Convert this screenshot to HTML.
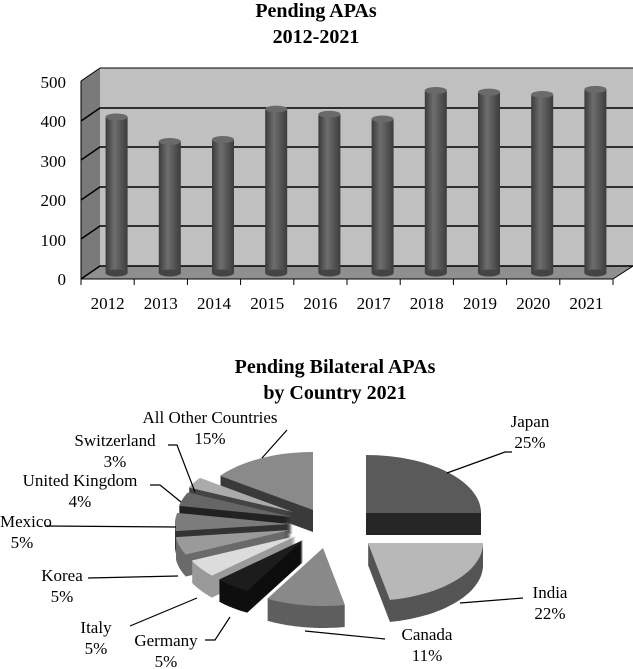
<!DOCTYPE html>
<html><head><meta charset="utf-8"><style>
html,body{margin:0;padding:0;background:#fff;}
svg{display:block;font-family:"Liberation Serif",serif;}
</style></head><body>
<svg id="s" width="633" height="669" viewBox="0 0 633 669" xmlns="http://www.w3.org/2000/svg">
<defs>
<linearGradient id="cyl" x1="0" x2="1" y1="0" y2="0">
<stop offset="0" stop-color="#3a3a3a"/><stop offset="0.4" stop-color="#6e6e6e"/><stop offset="1" stop-color="#3c3c3c"/>
</linearGradient>
</defs>
<text x="316" y="17" font-size="20" font-weight="bold" text-anchor="middle">Pending APAs</text>
<text x="316" y="43" font-size="20" font-weight="bold" text-anchor="middle">2012-2021</text>
<polygon points="100,68 633,68 633,266 100,266" fill="#c0c0c0"/>
<polygon points="81,81 100,68 100,266 81,279" fill="#7a7a7a"/>
<polygon points="81,279 100,266 633,266 613,279" fill="#8f8f8f"/>
<g stroke="#000" stroke-width="1.5" fill="none">
<polyline points="81,121 100,108 633,108"/>
<polyline points="81,160 100,147 633,147"/>
<polyline points="81,200 100,187 633,187"/>
<polyline points="81,239 100,226 633,226"/>
<polyline points="81,279 100,266 633,266"/>
<line x1="100" y1="68" x2="633" y2="68" stroke-width="1"/>
<line x1="81" y1="81" x2="100" y2="68" stroke-width="1"/>
<line x1="81" y1="81" x2="81" y2="279" stroke-width="1"/>
<line x1="81" y1="279" x2="613" y2="279" stroke-width="1"/>
<line x1="613" y1="279" x2="633" y2="266" stroke-width="1"/>
</g>
<g id="bars"></g>
<g font-size="17" text-anchor="end">
<text x="66" y="88">500</text><text x="66" y="127">400</text><text x="66" y="167">300</text>
<text x="66" y="206">200</text><text x="66" y="246">100</text><text x="66" y="285">0</text>
</g>
<g id="xl" font-size="17" text-anchor="middle"></g>

<text x="335" y="373" font-size="20" font-weight="bold" text-anchor="middle">Pending Bilateral APAs</text>
<text x="335" y="399" font-size="20" font-weight="bold" text-anchor="middle">by Country 2021</text>
<g id="pie"></g>
<g stroke="#000" stroke-width="1.2" fill="none">
<polyline points="447,473 505,452 512,452"/>
<polyline points="460,603 523,598"/>
<polyline points="305,631 385,639"/>
<polyline points="230,617 215,640 205,640"/>
<polyline points="197,598 130,626"/>
<polyline points="178,576 88,578"/>
<polyline points="176,527 45,526"/>
<polyline points="181,502 160,485 150,485"/>
<polyline points="195,492 177,445 168,445"/>
<polyline points="262,458 287,430"/>
</g>
<g font-size="17" text-anchor="middle">
<text x="530" y="427">Japan</text><text x="530" y="448">25%</text>
<text x="550" y="598">India</text><text x="550" y="619">22%</text>
<text x="427" y="640">Canada</text><text x="427" y="661">11%</text>
<text x="166" y="646">Germany</text><text x="166" y="667">5%</text>
<text x="96" y="633">Italy</text><text x="96" y="654">5%</text>
<text x="62" y="581">Korea</text><text x="62" y="602">5%</text>
<text x="0" y="527" text-anchor="start">Mexico</text><text x="22" y="548">5%</text>
<text x="80" y="486">United Kingdom</text><text x="80" y="507">4%</text>
<text x="115" y="446">Switzerland</text><text x="115" y="467">3%</text>
<text x="210" y="423">All Other Countries</text><text x="210" y="444">15%</text>
</g>
</svg>
<script>
(function(){
var NS="http://www.w3.org/2000/svg";
function el(t,a,p){var e=document.createElementNS(NS,t);for(var k in a)e.setAttribute(k,a[k]);p.appendChild(e);return e;}
var vals=[395,333,338,415,402,390,462,458,452,465],yrs=[2012,2013,2014,2015,2016,2017,2018,2019,2020,2021];
var bg=document.getElementById('bars'),xl=document.getElementById('xl');
for(var i=0;i<10;i++){
 var cx=81+53.2*(i+0.5)+9, base=273, ty=base-vals[i]*0.395, w=22;
 el('rect',{x:cx-w/2,y:ty,width:w,height:base-ty,fill:'url(#cyl)'},bg);
 el('ellipse',{cx:cx,cy:base,rx:w/2,ry:3.5,fill:'#444'},bg);
 el('ellipse',{cx:cx,cy:ty,rx:w/2,ry:3.5,fill:'#6a6a6a'},bg);
 el('line',{x1:81+53.2*i,y1:279,x2:81+53.2*i,y2:285,stroke:'#000'},bg);
 var t=el('text',{x:81+53.2*(i+0.5),y:309},xl);t.textContent=yrs[i];
}
el('line',{x1:613,y1:279,x2:613,y2:285,stroke:'#000'},bg);
var rx=115,ry=58,th=22;
var sl=[
 ['others',216,270,313,510,'#8a8a8a','#3a3a3a'],
 ['sw',205,216,293,512,'#ababab','#444'],
 ['uk',191,205,292,517,'#666','#222'],
 ['japan',-90,0,366,513,'#5a5a5a','#262626'],
 ['mex',173,191,290,524,'#7c7c7c','#333'],
 ['kor',155,173,290,530,'#9a9a9a','#6a6a6a'],
 ['ita',137,155,296,536,'#dcdcdc','#9a9a9a'],
 ['ger',119,137,303,540,'#1c1c1c','#0e0e0e'],
 ['can',79,119,323,548,'#898989','#5e5e5e'],
 ['ind',0,79,368,543,'#b8b8b8','#555']
];
var pg=document.getElementById('pie');
function path(s,dy){var d='M'+s[3]+','+(s[4]+dy);var n=30;
 for(var k=0;k<=n;k++){var a=(s[1]+(s[2]-s[1])*k/n)*Math.PI/180;
  d+=' L'+(s[3]+rx*Math.cos(a)).toFixed(1)+','+(s[4]+dy+ry*Math.sin(a)).toFixed(1);}
 return d+'Z';}
sl.forEach(function(s){
 for(var dy=th;dy>0;dy-=1)el('path',{d:path(s,dy),fill:s[6]},pg);
 el('path',{d:path(s,0),fill:s[5]},pg);
});
})();
</script>
</body></html>
